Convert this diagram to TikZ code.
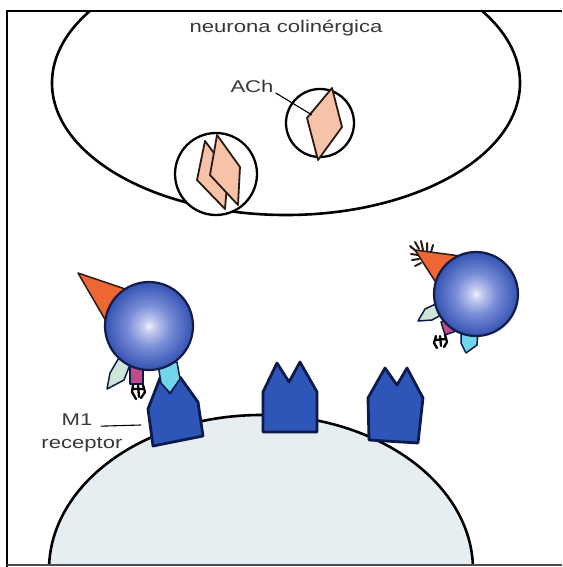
\documentclass[tikz,border=0pt]{standalone}
\usepackage{fontspec}
\newfontfamily\labfont[FakeStretch=1.3]{Liberation Sans}
\definecolor{labgray}{HTML}{383838}
\definecolor{recblue}{HTML}{2E56B8}
\definecolor{recdark}{HTML}{0D1B4A}
\definecolor{balldark}{HTML}{141C48}
\definecolor{ballA}{HTML}{F2F2FC}
\definecolor{ballB}{HTML}{C9CEF0}
\definecolor{ballC}{HTML}{7A8ED8}
\definecolor{ballD}{HTML}{3352B2}
\definecolor{conefill}{HTML}{EE6633}
\definecolor{leaffill}{HTML}{CFE5D8}
\definecolor{tagfill}{HTML}{C24A8C}
\definecolor{tipfill}{HTML}{70D6EA}
\definecolor{achfill}{HTML}{F6C2A8}
\definecolor{achdark}{HTML}{2A1A14}
\definecolor{postfill}{HTML}{E7EEF2}
\pgfdeclareradialshading{ligandball}{\pgfpointorigin}{%
  color(0bp)=(ballA); color(3bp)=(ballB); color(12bp)=(ballC);
  color(25bp)=(ballD); color(50bp)=(ballD)}
\begin{document}
\begin{tikzpicture}[x=1pt,y=-1pt,
  label/.style={text=labgray, font=\labfont\fontsize{17}{20}\selectfont, inner sep=0pt},
  membrane/.style={draw=black, line width=2.6pt},
  vesicle/.style={draw=black, line width=2.3pt, fill=white},
  achmol/.style={fill=achfill, draw=achdark, line width=1.8pt, line join=round},
  receptorbox/.style={fill=recblue, draw=recdark, line width=2.8pt, line join=round},
  ligand/.style={circle, inner sep=0pt, shading=ligandball, draw=balldark, line width=2.2pt},
  part/.style={draw=recdark, line width=1.5pt, line join=round},
  claw/.style={draw=black, line width=2.3pt, line cap=round, line join=round},
  bristle/.style={draw=achdark, line width=2pt, line cap=round},
  leader/.style={draw=black, line width=1.1pt}]
\useasboundingbox (0,0) rectangle (562,567);

% cholinergic neuron, cut by the top edge
\begin{scope}
  \clip (0,11) rectangle (562,567);
  \draw[membrane, fill=white] (286,83) ellipse [x radius=234, y radius=132];
\end{scope}
\node[label, anchor=base] (neuron) at (286,33) {neurona colinérgica};

% vesicles with acetylcholine
\node[vesicle, circle, minimum size=68, inner sep=0pt] (vesR) at (320,123) {};
\draw[achmol] (332,88) -- (342,127) -- (318,160) -- (307,118) -- cycle;
\node[vesicle, circle, minimum size=82, inner sep=0pt] (vesL) at (216,174) {};
\draw[achmol] (205,141) -- (228,172) -- (225,209) -- (197,180) -- cycle;
\draw[achmol] (217,135) -- (240,167) -- (238,205) -- (210,175) -- cycle;
\node[label, anchor=base] (achlab) at (252,93) {ACh};
\coordinate (achpt) at (312,115);
\draw[leader] (achlab.east) ++(2,6) -- (achpt);

% postsynaptic cell
\begin{scope}
  \clip (0,0) rectangle (562,565);
  \draw[membrane, fill=postfill] (261,570) ellipse [x radius=212, y radius=155];
\end{scope}

% M1 receptors
\draw[receptorbox] (153,446) -- (148,409) -- (160,378) -- (170,393) -- (180,377)
  -- (198,402) -- (203,436) -- cycle;
\draw[receptorbox] (263,432) -- (263,392) -- (277,363) -- (289,382) -- (300,362)
  -- (317,392) -- (317,432) -- cycle;
\draw[receptorbox] (369,440) -- (368,398) -- (385,368) -- (397,385) -- (407,368)
  -- (423,398) -- (418,443) -- cycle;

% bound ligand
\draw[part, draw=achdark, fill=conefill] (78,273) -- (134,292) -- (110,328) -- cycle;
\draw[part, fill=leaffill] (107,389) -- (110,373) -- (120,356) -- (131,362) -- (124,380) -- cycle;
\draw[part, fill=tagfill] (130,364) -- (143,364) -- (143,384) -- (130,384) -- cycle;
\draw[claw] (133,385) -- (132,392) -- (136,399) (138,385) -- (139,397) (143,385) -- (145,392) -- (141,398)
  (133,389) -- (144,389);
\draw[part, fill=tipfill] (158,364) -- (177,362) -- (180,379) -- (170,393) -- (161,383) -- cycle;
\node[ligand, minimum size=88] (lig1) at (149,326) {};

% free ligand
\draw[part, draw=achdark, fill=conefill] (415,250) -- (460,256) -- (442,292) -- cycle;
\draw[bristle] (416,251) -- (410,246) (419,249) -- (415,242) (423,250) -- (421,241)
  (427,251) -- (427,243) (431,252) -- (433,245) (418,255) -- (411,254)
  (419,259) -- (412,260) (421,263) -- (415,266);
\draw[part, fill=leaffill] (418,321) -- (425,309) -- (440,302) -- (443,314) -- (432,320) -- cycle;
\draw[part, fill=tagfill] (441,322) -- (452,318) -- (456,331) -- (445,335) -- cycle;
\draw[claw] (436,336) -- (434,343) -- (437,348) (440,336) -- (441,346) (445,335) -- (447,342) -- (444,347)
  (435,340) -- (446,339);
\draw[part, fill=tipfill] (461,330) -- (478,330) -- (477,345) -- (466,353) -- (461,343) -- cycle;
\node[ligand, minimum size=84] (lig2) at (476,294) {};

% receptor label
\node[label, anchor=base] (m1) at (77,425) {M1};
\node[label, anchor=base] (rec) at (82,448) {receptor};
\coordinate (m1pt) at (141,425);
\draw[leader] (m1.east) ++(8,7) -- (m1pt);

% frame
\draw[line width=2.6pt] (562,11) -- (7,11) -- (7,567);
\draw[line width=1.4pt, draw=black!70] (7,565) -- (562,565);
\end{tikzpicture}
\end{document}
